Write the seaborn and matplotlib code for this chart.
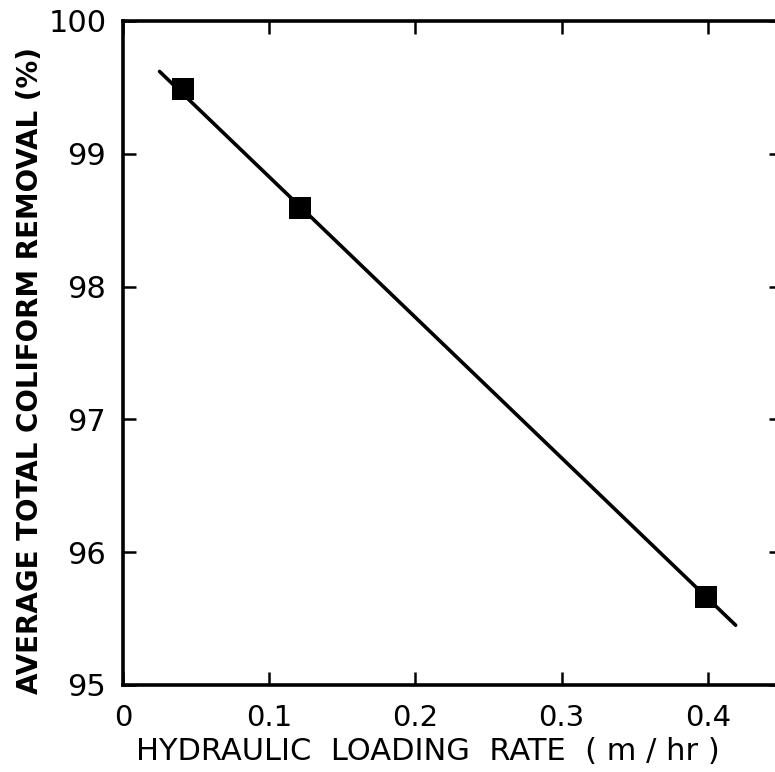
import matplotlib
matplotlib.use("Agg")
import matplotlib.pyplot as plt
import seaborn as sns
import pandas as pd

# Data
loading_rate = [0.041, 0.121, 0.399]       # m/hr
removal = [99.49, 98.59, 95.66]            # %
fit_x = [0.025, 0.419]
fit_y = [99.62, 95.45]

x_ticks = [0, 0.1, 0.2, 0.3, 0.4]
x_tick_labels = ["0", "0.1", "0.2", "0.3", "0.4"]
y_ticks = [95, 96, 97, 98, 99, 100]
y_tick_labels = ["95", "96", "97", "98", "99", "100"]

sns.set_theme(style="ticks")
plt.rcParams["font.family"] = ["DejaVu Sans"]
plt.rcParams["text.color"] = "black"
plt.rcParams["axes.labelcolor"] = "black"
plt.rcParams["xtick.color"] = "black"
plt.rcParams["ytick.color"] = "black"

fig = plt.figure(figsize=(7.75, 7.72), dpi=100)
ax = fig.add_axes([123 / 775, 1 - 685 / 772, 659 / 775, 664 / 772])

pts = pd.DataFrame({"x": loading_rate, "y": removal})
fit = pd.DataFrame({"x": fit_x, "y": fit_y})

sns.lineplot(data=fit, x="x", y="y", ax=ax, color="black", linewidth=2.6)
sns.scatterplot(data=pts, x="x", y="y", ax=ax, marker="s", s=270,
                color="black", edgecolor="black", linewidth=0, zorder=5)

ax.set_xlim(0, 0.4507)
ax.set_ylim(95, 100)
ax.set_xticks(x_ticks)
ax.set_xticklabels(x_tick_labels)
ax.set_yticks(y_ticks)
ax.set_yticklabels(y_tick_labels)

for s in ax.spines.values():
    s.set_visible(True)
    s.set_linewidth(2.6)
    s.set_color("black")

ax.tick_params(axis="both", which="both", direction="in", length=9.5, width=1.8,
               top=True, right=True, color="black", labelcolor="black")
ax.tick_params(axis="x", labelsize=21, pad=14)
ax.tick_params(axis="y", labelsize=22, pad=12)

ax.set_xlabel("HYDRAULIC  LOADING  RATE  ( m / hr )", fontsize=22)
ax.xaxis.set_label_coords(0.463, -0.078)
ax.set_ylabel("AVERAGE TOTAL COLIFORM REMOVAL (%)", fontsize=20,
              fontweight="bold")
ax.yaxis.set_label_coords(-0.12, 0.474)

fig.savefig("out.png", dpi=100)
